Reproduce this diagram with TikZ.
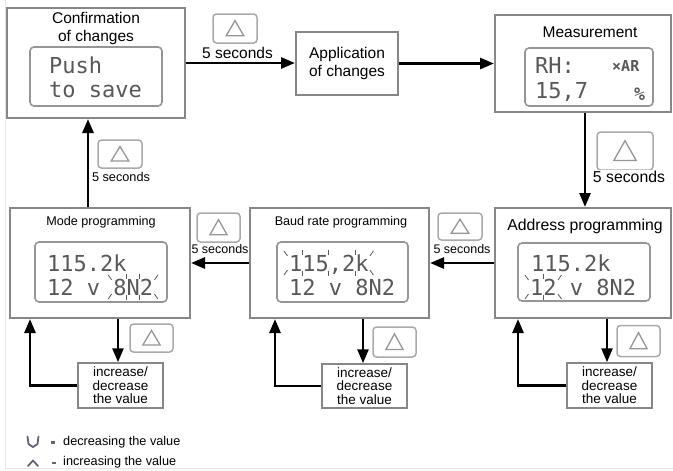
\documentclass[tikz,border=0pt]{standalone}
\usepackage{fontspec}
\setmainfont{Liberation Sans}
\newfontfamily\lcdfont{DejaVu Sans Mono}
\usetikzlibrary{arrows.meta}
\definecolor{boxgray}{RGB}{135,135,135}
\definecolor{lcdgray}{RGB}{150,150,150}
\definecolor{btngray}{RGB}{170,170,170}
\definecolor{trigray}{RGB}{150,150,150}
\definecolor{lcdtext}{RGB}{88,88,88}
\definecolor{framegray}{RGB}{230,230,230}
\definecolor{symgray}{RGB}{95,100,118}
\newcommand\pushbtn[5]{%
  \node[btn, minimum width=#4pt, minimum height=#5pt] (#1) at (#2,#3) {};
  \draw[tri] (#2,#3) ++(0,-0.27*#5) -- ++(0.2*#4,0.52*#5) -- ++(-0.4*#4,0) -- cycle;}
\newcommand\blinkspan[5]{%
  \draw[tick] (#1-5,#3-4) -- (#1-1.5,#3+1);
  \draw[tick] (#2+5,#3-4) -- (#2+1.5,#3+1);
  \draw[tick] (#1-5,#4+4) -- (#1-1.5,#4-1);
  \draw[tick] (#2+5,#4+4) -- (#2+1.5,#4-1);
  \foreach \bx in {#5} {\draw[tick] (\bx,#3-5) -- (\bx,#3); \draw[tick] (\bx,#4) -- (\bx,#4+5);}}
\begin{document}
\begin{tikzpicture}[x=1pt,y=-1pt,
  box/.style={draw=boxgray, line width=2pt, fill=white, inner sep=0pt},
  lcdbox/.style={draw=lcdgray, line width=1.6pt, rounded corners=4pt, inner sep=0pt},
  btn/.style={draw=btngray, line width=1.5pt, rounded corners=3.5pt, inner sep=0pt, fill=white},
  tri/.style={draw=trigray, line width=1.3pt, line join=miter},
  lcdtxt/.style={text=lcdtext, font=\lcdfont\fontsize{22}{22}\selectfont, inner sep=0pt, anchor=base west},
  tick/.style={draw=lcdtext, line width=0.8pt},
  arr/.style={line width=2.6pt, -{Triangle[length=14pt,width=11pt]}},
  secs/.style={fill=white, inner sep=1pt},
  ttl/.style={inner sep=0pt, align=center},
  incbox/.style={draw=boxgray, line width=1.5pt, fill=white, inner sep=0pt, align=center,
     minimum width=85pt, font=\fontsize{13.5}{13.5}\selectfont},
  legend/.style={inner sep=0pt, anchor=west, font=\fontsize{12.7}{14}\selectfont},
  sym/.style={draw=symgray, line width=1.8pt, line join=round, line cap=round}]
\useasboundingbox (0,0) rectangle (673,471);
\draw[framegray, line width=1pt] (5,0) -- (5,468) -- (673,468);

% ---- top row
\node[box, minimum width=178pt, minimum height=110pt] (conf) at (96,63) {};
\node[ttl, font=\fontsize{15.5}{18.5}\selectfont] (tconf) at (96,28.5) {Confirmation\\of changes};
\node[lcdbox, minimum width=132pt, minimum height=59pt] (lcdc) at (96,76.5) {};
\node[lcdtxt] (c1) at (49,74) {Push};
\node[lcdtxt] (c2) at (49,97) {to save};

\node[box, minimum width=102pt, minimum height=63pt, align=center,
  font=\fontsize{15.5}{18.5}\selectfont] (appl) at (347,63.5) {Application\\of changes};

\node[box, minimum width=176pt, minimum height=97pt] (meas) at (583,63.5) {};
\node[ttl, font=\fontsize{15.5}{18.5}\selectfont] (tmeas) at (590,32) {Measurement};
\node[lcdbox, minimum width=128pt, minimum height=58pt] (lcdm) at (589,77) {};
\node[lcdtxt] (m1) at (535,74) {RH:};
\node[lcdtxt] (m2) at (535,98) {15,7};
\node[lcdtxt, font=\lcdfont\bfseries\fontsize{15}{15}\selectfont] (m3) at (612,71) {×AR};
\node[lcdtxt, font=\lcdfont\bfseries\fontsize{18}{18}\selectfont] (m4) at (634,100) {\%};

% ---- bottom row
\node[box, minimum width=180pt, minimum height=110pt] (mode) at (100,263) {};
\node[ttl, font=\fontsize{12.6}{14}\selectfont] (tmode) at (101,222) {Mode programming};
\node[lcdbox, minimum width=132pt, minimum height=60pt] (lcdmo) at (101,272) {};
\node[lcdtxt] (mo1) at (47,271) {115.2k};
\node[lcdtxt] (mo2) at (47,295) {12 v 8N2};
\blinkspan{113.2}{152.9}{279}{295}{126.4,139.7}

\node[box, minimum width=179pt, minimum height=110pt] (baud) at (339.5,263) {};
\node[ttl, font=\fontsize{12.6}{14}\selectfont] (tbaud) at (341,222) {Baud rate programming};
\node[lcdbox, minimum width=131pt, minimum height=60pt] (lcdb) at (342.5,272) {};
\node[lcdtxt] (b1) at (289,271) {115,2k};
\node[lcdtxt] (b2) at (289,295) {12 v 8N2};
\blinkspan{289}{368.4}{255}{271}{302.2,328.7,355.2}

\node[box, minimum width=176pt, minimum height=110pt] (addr) at (583,263) {};
\node[ttl, font=\fontsize{15.8}{18}\selectfont] (taddr) at (585,226) {Address programming};
\node[lcdbox, minimum width=132pt, minimum height=58pt] (lcda) at (584,272) {};
\node[lcdtxt] (a1) at (531,271) {115.2k};
\node[lcdtxt] (a2) at (530,295) {12 v 8N2};
\blinkspan{530}{556.5}{279}{295}{543.2}

% ---- increase/decrease boxes
\node[incbox, minimum height=45pt] (incm) at (120.5,385.5) {increase/\\decrease\\the value};
\node[incbox, minimum height=44pt] (incb) at (364.5,386) {increase/\\decrease\\the value};
\node[incbox, minimum height=45pt] (inca) at (609.5,385.5) {increase/\\decrease\\the value};

% ---- buttons
\pushbtn{bt1}{235}{28.5}{44}{29}
\pushbtn{bt2}{625}{151}{56}{38}
\pushbtn{bt3}{120}{154}{44}{28}
\pushbtn{bt4}{218.5}{227.5}{43}{29}
\pushbtn{bt5}{460}{226.5}{44}{27}
\pushbtn{bt6}{151.5}{338}{43}{28}
\pushbtn{bt7}{394.5}{342}{43}{30}
\pushbtn{bt8}{638.5}{341}{43}{31}

% ---- connectors
\draw[arr] (conf.east) -- (conf.east -| appl.west);
\draw[arr] (appl.east) -- (appl.east -| meas.west);
\draw[arr] ([xshift=2pt]meas.south) -- ([xshift=2pt]meas.south |- addr.north);
\draw[arr] (addr.west) -- (addr.west -| baud.east);
\draw[arr] (baud.west) -- (baud.west -| mode.east);
\draw[arr] ([xshift=-12pt]mode.north) -- ([xshift=-12pt]mode.north |- conf.south);

\draw[arr] ([xshift=18pt]mode.south) -- ([xshift=18pt]mode.south |- incm.north);
\draw[arr] ([xshift=23.5pt]baud.south) -- ([xshift=23.5pt]baud.south |- incb.north);
\draw[arr] ([xshift=24pt]addr.south) -- ([xshift=24pt]addr.south |- inca.north);
\draw[arr] (incm.west) -| ([xshift=-70pt]mode.south);
\draw[arr] (incb.west) -| ([xshift=-64.5pt]baud.south);
\draw[arr] (inca.west) -| ([xshift=-65pt]addr.south);

% ---- "5 seconds" labels
\node[secs, font=\fontsize{15.5}{16}\selectfont] (s1) at (237.5,53) {5 seconds};
\node[secs, font=\fontsize{15.8}{16}\selectfont] (s2) at (629,177) {5 seconds};
\node[secs, font=\fontsize{12.7}{13}\selectfont] (s3) at (121,177) {5 seconds};
\node[secs, font=\fontsize{12.5}{13}\selectfont] (s4) at (220,249) {5 seconds};
\node[secs, font=\fontsize{12.5}{13}\selectfont] (s5) at (462,249) {5 seconds};

% ---- legend
\draw[sym] (27.5,436.5) -- (28.5,444) -- (33,447) -- (37.5,444) -- (38.5,436.5);
\fill[symgray] (51,440.5) rectangle (54.5,444);
\node[legend] (leg1) at (63,442) {decreasing the value};
\draw[sym] (28,466) -- (33,460.5) -- (38,466);
\draw[symgray, line width=1.3pt] (52,463) -- (56,463);
\node[legend] (leg2) at (63,462.5) {increasing the value};
\end{tikzpicture}
\end{document}
